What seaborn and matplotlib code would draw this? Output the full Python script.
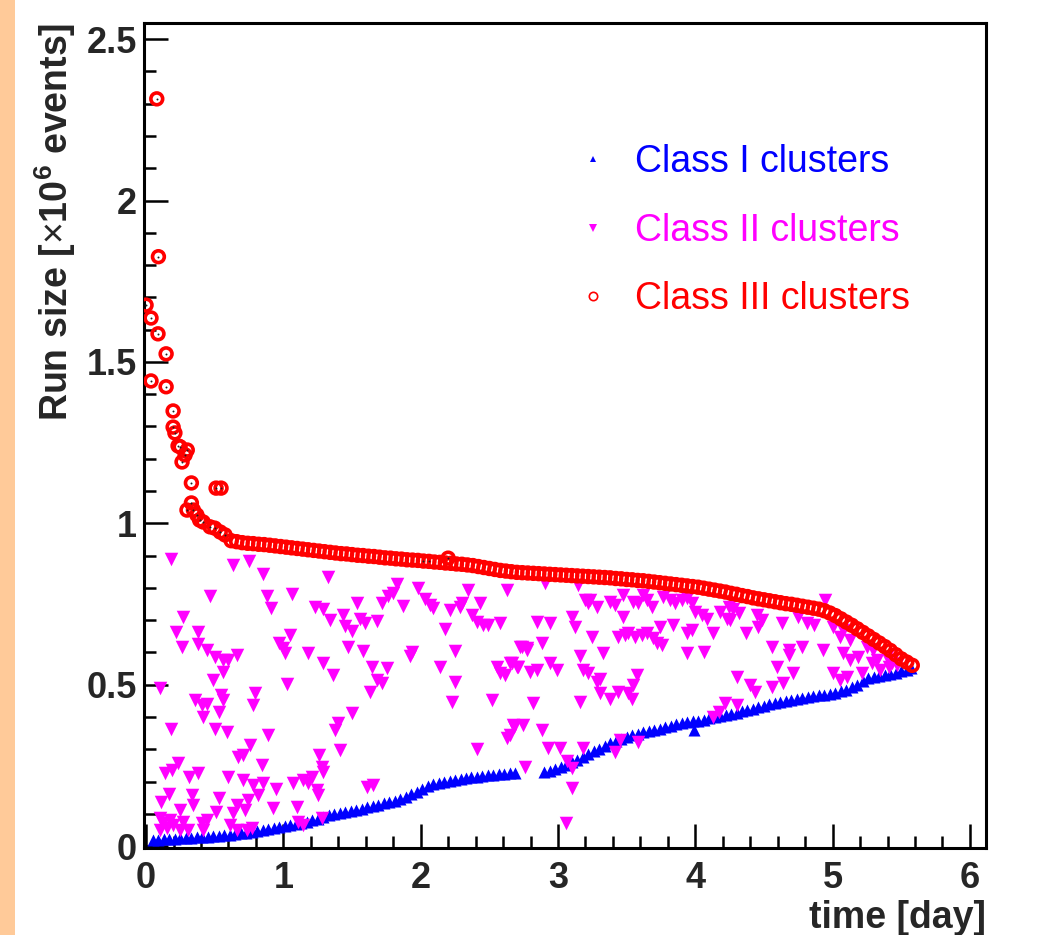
import matplotlib
matplotlib.use("Agg")
import matplotlib.pyplot as plt
import seaborn as sns
from matplotlib.ticker import MultipleLocator
from matplotlib.lines import Line2D
from matplotlib.patches import Rectangle

# ---------------- data ----------------
series_labels = ["Class I clusters", "Class II clusters", "Class III clusters"]
series_colors = ["#0000ff", "#ff00ff", "#ff0000"]

x_ticks = [0, 1, 2, 3, 4, 5, 6]
x_tick_labels = ["0", "1", "2", "3", "4", "5", "6"]
y_ticks = [0, 0.5, 1.0, 1.5, 2.0, 2.5]
y_tick_labels = ["0", "0.5", "1", "1.5", "2", "2.5"]

# Class I clusters (blue, up triangles)
c1_time = [
    0.05, 0.09, 0.13, 0.17, 0.21, 0.25, 0.29, 0.33, 0.37, 0.41,
    0.45, 0.49, 0.53, 0.57, 0.61, 0.65, 0.69, 0.73, 0.77, 0.81,
    0.85, 0.89, 0.93, 0.97, 1.01, 1.05, 1.09, 1.13, 1.17, 1.21,
    1.25, 1.29, 1.33, 1.37, 1.41, 1.45, 1.49, 1.53, 1.57, 1.61,
    1.65, 1.69, 1.73, 1.77, 1.81, 1.85, 1.89, 1.93, 1.97, 2.01,
    2.05, 2.09, 2.13, 2.17, 2.21, 2.25, 2.29, 2.33, 2.37, 2.41,
    2.45, 2.49, 2.53, 2.57, 2.61, 2.65, 2.69,
    2.90, 2.94, 2.98, 3.02, 3.06, 3.10, 3.14, 3.18, 3.22, 3.26,
    3.30, 3.34, 3.38, 3.42, 3.46, 3.50, 3.54, 3.58, 3.62, 3.66,
    3.70, 3.74, 3.78, 3.82, 3.86, 3.90, 3.94, 3.98, 4.02, 4.06,
    4.10, 4.14, 4.18, 4.22, 4.26, 4.30, 4.34, 4.38, 4.42, 4.46,
    4.50, 4.54, 4.58, 4.62, 4.66, 4.70, 4.74, 4.78, 4.82, 4.86,
    4.90, 4.94, 4.98, 5.02, 5.06, 5.10, 5.14, 5.18, 5.22, 5.26,
    5.30, 5.34, 5.38, 5.42, 5.46, 5.50, 5.54, 5.57,
    3.99,
]
c1_size = [
    0.019, 0.020, 0.021, 0.022, 0.023, 0.024, 0.025, 0.026, 0.027, 0.028,
    0.029, 0.030, 0.031, 0.033, 0.034, 0.037, 0.039, 0.042, 0.044, 0.047,
    0.050, 0.053, 0.056, 0.059, 0.062, 0.065, 0.068, 0.072, 0.075, 0.080,
    0.085, 0.090, 0.095, 0.099, 0.102, 0.106, 0.109, 0.113, 0.116, 0.120,
    0.124, 0.128, 0.133, 0.137, 0.141, 0.147, 0.153, 0.160, 0.167, 0.176,
    0.185, 0.191, 0.195, 0.199, 0.202, 0.205, 0.208, 0.211, 0.213, 0.215,
    0.217, 0.219, 0.221, 0.223, 0.224, 0.225, 0.226,
    0.229, 0.232, 0.238, 0.244, 0.251, 0.259, 0.268, 0.277, 0.285, 0.294,
    0.302, 0.310, 0.318, 0.326, 0.332, 0.338, 0.343, 0.347, 0.352, 0.356,
    0.360, 0.364, 0.369, 0.373, 0.377, 0.380, 0.383, 0.386, 0.389, 0.392,
    0.396, 0.399, 0.403, 0.406, 0.410, 0.413, 0.417, 0.421, 0.426, 0.430,
    0.435, 0.439, 0.443, 0.446, 0.450, 0.453, 0.456, 0.459, 0.462, 0.464,
    0.467, 0.469, 0.472, 0.475, 0.480, 0.485, 0.492, 0.500, 0.511, 0.521,
    0.524, 0.527, 0.531, 0.534, 0.537, 0.541, 0.547, 0.552,
    0.359,
]

# Class II clusters (magenta, down triangles)
c2_time = [
    0.18, 0.631, 0.748, 0.854, 1.328, 0.466, 0.879, 1.061, 0.91, 0.272,
    0.218, 0.381, 0.26, 0.381, 0.442, 0.503, 0.563, 0.60, 0.665, 0.558,
    0.486, 0.102, 0.544, 0.563, 0.357, 0.405, 0.447, 0.417, 0.534, 0.794,
    0.782, 1.025, 0.18, 0.503, 0.588, 0.891, 0.757, 0.709, 0.67, 0.235,
    0.187, 0.138, 0.316, 0.381, 0.60, 0.843, 0.709, 0.782, 0.854, 0.818,
    0.944, 1.073, 0.17, 0.107, 0.333, 0.534, 0.745, 0.34, 0.51, 0.66,
    0.72, 0.927, 1.098, 0.248,
    0.102, 0.126, 0.175, 0.199, 0.272, 0.102, 0.15, 0.248, 0.308, 0.405,
    0.442, 0.417, 0.612, 0.66, 0.733, 0.769, 0.636, 1.11, 1.146, 1.28,
    1.207, 1.243, 1.255, 1.146, 1.182, 1.28, 1.29, 1.262, 1.413, 1.498,
    1.401, 1.377, 1.607, 1.656, 0.971, 1.0, 1.012, 1.049, 1.182, 1.287,
    1.364, 1.231, 1.291, 1.34, 1.437, 1.449, 1.498, 1.535, 1.559, 1.595,
    1.68, 1.474, 1.583, 1.643, 1.753, 1.68, 1.716, 1.63, 1.716, 1.765,
    1.801, 1.826, 1.874, 1.983, 2.032, 2.068, 2.093, 2.178, 2.214, 2.287,
    2.30, 2.348, 2.433, 2.372, 2.408, 2.457, 2.493, 2.578, 2.627, 1.935,
    1.923, 2.251, 2.142, 2.251, 2.227, 2.41, 2.52, 2.553, 2.578, 2.651,
    2.70, 2.736, 2.772, 2.651, 2.675, 2.748, 2.76,
    2.845, 2.942, 2.724, 2.773, 2.881, 2.664, 2.712, 2.797, 2.845, 2.942,
    2.99, 2.615, 2.82, 2.676, 2.881, 2.627, 2.93, 3.015, 3.185, 3.063,
    3.10, 3.10, 3.059, 2.906, 3.149, 3.10, 3.124, 3.161, 3.185, 3.221,
    3.282, 3.306, 3.161, 3.246, 3.331, 3.197, 3.221, 3.282, 3.234, 3.379,
    3.415, 3.476, 3.549, 3.585, 3.622, 3.646, 3.682, 3.476, 3.44, 3.488,
    3.513, 3.561, 3.61, 3.646, 3.695, 3.719, 3.756, 3.743, 3.306, 3.379,
    3.44, 3.513, 3.537, 3.573, 3.549, 3.452, 3.585, 3.416, 3.768, 3.817,
    3.853, 3.902, 3.938, 3.975, 3.841, 3.938, 3.975, 3.938, 4.06, 4.132,
    4.181, 4.242, 4.278, 4.315, 4.229, 4.254, 3.999, 4.047, 4.084, 4.37,
    4.448, 4.484, 4.46, 4.30, 4.40, 4.435, 4.218, 4.169, 4.132, 4.30,
    4.557, 4.593, 4.557, 4.679, 4.679, 4.715, 4.642, 4.775, 4.63, 4.751,
    4.812, 4.861, 4.945, 4.933, 5.006, 5.055, 5.103, 5.079, 5.127, 5.188,
    5.212, 5.006, 5.055, 5.127, 5.079, 5.249, 5.297, 5.322, 5.395, 5.431,
    5.346, 5.407, 5.468, 5.285,
]
c2_size = [
    0.888, 0.871, 0.884, 0.843, 0.833, 0.775, 0.775, 0.781, 0.737, 0.711,
    0.664, 0.664, 0.618, 0.626, 0.607, 0.587, 0.576, 0.578, 0.592, 0.54,
    0.514, 0.489, 0.468, 0.452, 0.452, 0.437, 0.44, 0.401, 0.416, 0.473,
    0.437, 0.502, 0.362, 0.362, 0.354, 0.344, 0.313, 0.282, 0.277, 0.256,
    0.236, 0.225, 0.215, 0.225, 0.215, 0.251, 0.205, 0.189, 0.196, 0.158,
    0.176, 0.194, 0.162, 0.137, 0.158, 0.148, 0.143, 0.127, 0.106, 0.127,
    0.112, 0.117, 0.122, 0.112,
    0.086, 0.071, 0.081, 0.066, 0.076, 0.05, 0.055, 0.05, 0.05, 0.071,
    0.081, 0.05, 0.066, 0.05, 0.05, 0.055, 0.102, 0.076, 0.066, 0.086,
    0.215, 0.174, 0.158, 0.205, 0.194, 0.246, 0.231, 0.282, 0.297, 0.411,
    0.38, 0.359, 0.184, 0.189, 0.628, 0.613, 0.597, 0.654, 0.597, 0.566,
    0.53, 0.742, 0.736, 0.70, 0.717, 0.681, 0.666, 0.754, 0.703, 0.692,
    0.697, 0.618, 0.603, 0.556, 0.551, 0.514, 0.504, 0.478, 0.754, 0.774,
    0.785, 0.811, 0.744, 0.80, 0.764, 0.748, 0.738, 0.674, 0.731, 0.742,
    0.752, 0.794, 0.752, 0.716, 0.695, 0.685, 0.685, 0.69, 0.794, 0.60,
    0.59, 0.604, 0.555, 0.508, 0.446, 0.30, 0.452, 0.556, 0.535, 0.566,
    0.556, 0.618, 0.613, 0.345, 0.376, 0.376, 0.246,
    0.695, 0.69, 0.618, 0.608, 0.629, 0.566, 0.556, 0.54, 0.545, 0.566,
    0.545, 0.53, 0.442, 0.37, 0.36, 0.334, 0.303, 0.303, 0.303, 0.262,
    0.241, 0.179, 0.072, 0.814, 0.809, 0.71, 0.68, 0.588, 0.545, 0.535,
    0.509, 0.519, 0.447, 0.648, 0.597, 0.762, 0.752, 0.741, 0.762, 0.757,
    0.747, 0.777, 0.757, 0.752, 0.777, 0.762, 0.741, 0.71, 0.649, 0.654,
    0.659, 0.649, 0.654, 0.659, 0.644, 0.628, 0.623, 0.68, 0.473, 0.457,
    0.478, 0.473, 0.457, 0.53, 0.499, 0.329, 0.323, 0.292, 0.772, 0.762,
    0.752, 0.762, 0.767, 0.752, 0.685, 0.659, 0.669, 0.597, 0.602, 0.659,
    0.726, 0.741, 0.736, 0.721, 0.705, 0.70, 0.726, 0.716, 0.705, 0.659,
    0.716, 0.70, 0.68, 0.525, 0.499, 0.478, 0.442, 0.416, 0.40, 0.437,
    0.618, 0.556, 0.494, 0.607, 0.592, 0.535, 0.504, 0.618, 0.69, 0.71,
    0.69, 0.685, 0.762, 0.608, 0.535, 0.514, 0.525, 0.597, 0.576, 0.587,
    0.535, 0.679, 0.649, 0.638, 0.669, 0.618, 0.608, 0.576, 0.587, 0.566,
    0.545, 0.556, 0.561, 0.566,
]

# Class III clusters (red, open circles)
c3_time = [
    0.00, 0.036, 0.087, 0.146, 0.036, 0.146, 0.197, 0.197, 0.21, 0.233,
    0.248, 0.30, 0.284, 0.262, 0.33, 0.51, 0.546, 0.33, 0.298, 0.345,
    0.37, 0.39, 0.416, 0.466, 0.50, 0.54, 0.575, 0.078, 0.09, 2.20,
    0.62, 0.66, 0.70, 0.74, 0.78, 0.82, 0.86, 0.90, 0.94, 0.98,
    1.02, 1.06, 1.10, 1.14, 1.18, 1.22, 1.26, 1.30, 1.34, 1.38,
    1.42, 1.46, 1.50, 1.54, 1.58, 1.62, 1.66, 1.70, 1.74, 1.78,
    1.82, 1.86, 1.90, 1.94, 1.98, 2.02, 2.06, 2.10, 2.14, 2.18,
    2.22, 2.26, 2.30, 2.34, 2.38, 2.42, 2.46, 2.50, 2.54, 2.58,
    2.62, 2.66, 2.70, 2.74, 2.78, 2.82, 2.86, 2.90, 2.94, 2.98,
    3.02, 3.06, 3.10, 3.14, 3.18, 3.22, 3.26, 3.30, 3.34, 3.38,
    3.42, 3.46, 3.50, 3.54, 3.58, 3.62, 3.66, 3.70, 3.74, 3.78,
    3.82, 3.86, 3.90, 3.94, 3.98, 4.02, 4.06, 4.10, 4.14, 4.18,
    4.22, 4.26, 4.30, 4.34, 4.38, 4.42, 4.46, 4.50, 4.54, 4.58,
    4.62, 4.66, 4.70, 4.74, 4.78, 4.82, 4.86, 4.90, 4.94, 4.98,
    5.02, 5.06, 5.10, 5.14, 5.18, 5.22, 5.26, 5.30, 5.34, 5.38,
    5.42, 5.46, 5.50, 5.54, 5.58,
]
c3_size = [
    1.676, 1.636, 1.587, 1.525, 1.441, 1.423, 1.348, 1.298, 1.28, 1.24,
    1.237, 1.227, 1.212, 1.19, 1.125, 1.109, 1.109, 1.063, 1.041, 1.041,
    1.026, 1.01, 1.004, 0.989, 0.985, 0.973, 0.964, 2.315, 1.826, 0.892,
    0.946, 0.943, 0.940, 0.938, 0.937, 0.935, 0.934, 0.932, 0.930, 0.928,
    0.926, 0.924, 0.922, 0.920, 0.918, 0.916, 0.914, 0.912, 0.910, 0.908,
    0.906, 0.905, 0.903, 0.901, 0.900, 0.898, 0.897, 0.895, 0.893, 0.892,
    0.890, 0.889, 0.887, 0.886, 0.885, 0.883, 0.882, 0.880, 0.879, 0.877,
    0.876, 0.874, 0.873, 0.871, 0.869, 0.866, 0.863, 0.860, 0.857, 0.854,
    0.852, 0.850, 0.848, 0.847, 0.846, 0.845, 0.844, 0.843, 0.842, 0.841,
    0.840, 0.839, 0.838, 0.837, 0.836, 0.835, 0.834, 0.833, 0.832, 0.831,
    0.829, 0.828, 0.826, 0.825, 0.823, 0.822, 0.820, 0.818, 0.816, 0.814,
    0.812, 0.810, 0.808, 0.806, 0.804, 0.802, 0.799, 0.796, 0.793, 0.790,
    0.787, 0.783, 0.780, 0.776, 0.773, 0.769, 0.766, 0.763, 0.760, 0.757,
    0.754, 0.751, 0.749, 0.746, 0.743, 0.740, 0.737, 0.734, 0.729, 0.722,
    0.714, 0.704, 0.694, 0.684, 0.673, 0.662, 0.651, 0.640, 0.629, 0.618,
    0.606, 0.593, 0.580, 0.570, 0.560,
]

# ---------------- styling ----------------
sns.set_theme(style="white")
plt.rcParams["font.family"] = ["Liberation Sans", "DejaVu Sans"]
plt.rcParams["mathtext.fontset"] = "custom"
plt.rcParams["mathtext.rm"] = "Liberation Sans"
plt.rcParams["mathtext.bf"] = "Liberation Sans:bold"

W, H = 1039, 935
fig = plt.figure(figsize=(W / 100, H / 100), dpi=100)
fig.patch.set_facecolor("white")
fig.patches.append(Rectangle((0, 0), 15 / W, 1, transform=fig.transFigure,
                             facecolor="#FFCA99", edgecolor="none", zorder=0))

ax = fig.add_axes([144 / W, 87 / H, 842 / W, 825 / H])
ax.set_facecolor("white")

sns.scatterplot(x=c1_time, y=c1_size, marker="^", color=series_colors[0],
                s=75, linewidth=0, ax=ax, zorder=2)
sns.scatterplot(x=c2_time, y=c2_size, marker="v", color=series_colors[1],
                s=95, linewidth=0, ax=ax, zorder=3)
sns.scatterplot(x=c3_time, y=c3_size, marker="o", color=series_colors[2],
                s=72, linewidth=2.6, ax=ax, zorder=4)
red = ax.collections[-1]
red.set_facecolor("none")
red.set_edgecolor(series_colors[2])
# tiny dark centre dots of the isolated Class III markers
early_t = [t for t, v in zip(c3_time, c3_size) if v > 0.95 or t > 2.0 and v > 0.88]
early_v = [v for t, v in zip(c3_time, c3_size) if v > 0.95 or t > 2.0 and v > 0.88]
sns.scatterplot(x=early_t, y=early_v, marker="o", color="#202020", s=2,
                linewidth=0, ax=ax, zorder=5)

ax.set_xlim(-0.015, 6.117)
ax.set_ylim(-0.006, 2.55)
ax.set_xticks(x_ticks, x_tick_labels, fontsize=26, fontweight="bold")
ax.set_yticks(y_ticks, y_tick_labels, fontsize=26, fontweight="bold")
ax.xaxis.set_minor_locator(MultipleLocator(0.2))
ax.yaxis.set_minor_locator(MultipleLocator(0.1))
ax.tick_params(which="both", direction="in", top=False, right=False,
               bottom=True, left=True, width=1.8, color="black")
ax.tick_params(axis="x", which="major", length=17, pad=9)
ax.tick_params(axis="y", which="major", length=17, pad=5)
ax.tick_params(which="minor", length=8.5)
ax.grid(False)
for sp in ax.spines.values():
    sp.set_visible(True)
    sp.set_color("black")
    sp.set_linewidth(2.2)

ax.set_xlabel("time [day]", fontsize=27, fontweight="bold", loc="right")
ax.xaxis.set_label_coords(1.0, -0.063)
ax.set_ylabel(r"Run size [$\times$10$^{\mathbf{6}}$ events]", fontsize=27,
              fontweight="bold", loc="top")
ax.yaxis.set_label_coords(-0.078, 1.0)

handles = [
    Line2D([], [], linestyle="none", marker="^", markersize=5,
           markerfacecolor=series_colors[0], markeredgewidth=0),
    Line2D([], [], linestyle="none", marker="v", markersize=6,
           markerfacecolor=series_colors[1], markeredgewidth=0),
    Line2D([], [], linestyle="none", marker="o", markersize=6,
           markerfacecolor="none", markeredgecolor=series_colors[2],
           markeredgewidth=1.2),
]
ax.legend(handles, series_labels, loc="upper left",
          bbox_to_anchor=(559 / W, 1 - 129 / H), bbox_transform=fig.transFigure,
          borderaxespad=0, frameon=False, fontsize=27, handlelength=1.0,
          handletextpad=0.62, labelspacing=0.87, labelcolor=series_colors)

fig.savefig("out.png", dpi=100)
